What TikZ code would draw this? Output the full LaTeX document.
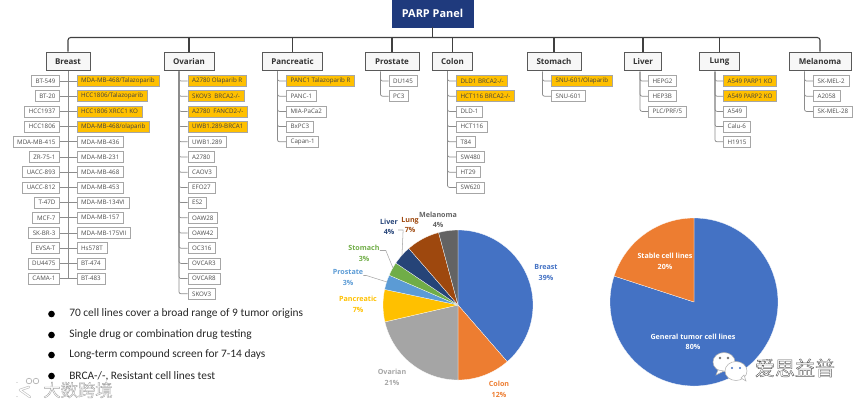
\documentclass[tikz,border=0pt]{standalone}
\usepackage{fontspec}
\setmainfont{Open Sans}
\newfontfamily\bodyfont{Carlito}
\newfontfamily\cjkfont{Noto Sans CJK SC}
\usepackage{tikz}
\usetikzlibrary{positioning,calc}
\definecolor{panelblue}{HTML}{1F3A7D}
\definecolor{hitfill}{HTML}{FFC000}
\definecolor{slBreast}{HTML}{4472C4}
\definecolor{slColon}{HTML}{ED7D31}
\definecolor{slOvarian}{HTML}{A5A5A5}
\definecolor{slPancreatic}{HTML}{FFC000}
\definecolor{slProstate}{HTML}{5B9BD5}
\definecolor{slStomach}{HTML}{70AD47}
\definecolor{slLiver}{HTML}{264478}
\definecolor{slLung}{HTML}{9E480E}
\definecolor{slMelanoma}{HTML}{636363}
\tikzset{
  panel/.style={draw=panelblue, fill=panelblue, text=white, font=\fontsize{8.2}{10}\selectfont\bfseries, minimum width=60.5pt, minimum height=20pt},
  organ/.style={draw=black!65, fill=black!3, line width=0.7pt, text=black!80, font=\fontsize{6}{8}\selectfont\bfseries, minimum height=14pt, inner xsep=0pt},
  cell/.style={draw=black!35, fill=white, line width=0.55pt, text=black!70, font=\fontsize{4.65}{6}\selectfont, minimum height=8.2pt, inner xsep=3.2pt, inner ysep=0pt},
  hit/.style={cell, fill=hitfill, text=black!75},
  under/.style={below=2.65pt of #1.south west, anchor=north west},
  underl/.style={below=2.65pt of #1.south east, anchor=north east},
  bus/.style={draw=black!75, line width=0.8pt, rounded corners=2pt},
  twig/.style={draw=black!45, line width=0.55pt, rounded corners=1.5pt},
  pct/.style={font=\fontsize{5.35}{7.8}\selectfont\bfseries, align=center, inner sep=0pt},
  leader/.style={draw=black!35, line width=0.4pt},
  dot/.style={circle, fill=black, inner sep=0pt, minimum size=5pt},
  point/.style={font=\bodyfont\fontsize{8.55}{10}\selectfont, anchor=west, inner sep=0pt, text=black!85},
  bubble/.style={fill=white, draw=black!30, line width=0.4pt},
}
% pie slice: colour, centre, from, to, radius
\newcommand{\slice}[5]{\fill[#1, draw=white, line width=0.2pt] (#2) -- ++(#3:#5) arc (#3:#4:#5) -- cycle;}
% white letters with a grey rim
\newcommand{\rimtext}[2]{\special{pdf:code q 2 Tr 0.3 w #1 G}#2\special{pdf:code Q}}
\begin{document}
\begin{tikzpicture}[x=0.75pt, y=0.75pt]
\useasboundingbox (0,0) rectangle (865,-405);

% --- top of the tree ---
\node (parp) [panel] at (432.5,-13.5) {PARP Panel};
\node (breast)  [organ, minimum width=33pt]   at (68,-61.5)  {Breast};
\node (ovarian) [organ, minimum width=37.5pt] at (189,-61.5) {Ovarian};
\node (pancreas)[organ, minimum width=45.5pt] at (292.5,-61.5) {Pancreatic};
\node (prostate)[organ, minimum width=40.5pt] at (392,-61.5) {Prostate};
\node (colon)   [organ, minimum width=30.5pt] at (452.5,-61.5) {Colon};
\node (stomach) [organ, minimum width=40.5pt] at (554,-61.5) {Stomach};
\node (liver)   [organ, minimum width=28pt]   at (643,-61.5) {Liver};
\node (lung)    [organ, minimum width=30.5pt] at (719.5,-61.5) {Lung};
\node (melanoma)[organ, minimum width=46.5pt] at (820,-61.5) {Melanoma};

\coordinate (hub) at (432.5,-37.5);
\draw[bus] (parp) -- (hub);
\draw[bus] (breast) |- (hub);
\draw[bus] (melanoma) |- (hub);
\draw[bus] (ovarian) -- (ovarian |- hub);
\draw[bus] (pancreas) -- (pancreas |- hub);
\draw[bus] (prostate) -- (prostate |- hub);
\draw[bus] (colon) -- (colon |- hub);
\draw[bus] (stomach) -- (stomach |- hub);
\draw[bus] (liver) -- (liver |- hub);
\draw[bus] (lung) -- (lung |- hub);

% --- breast, two columns round the trunk ---
\node (brL1)  [cell, anchor=east] at (60,-81) {BT-549};
\node (brL2)  [cell, underl=brL1]  {BT-20};
\node (brL3)  [cell, underl=brL2]  {HCC1937};
\node (brL4)  [cell, underl=brL3]  {HCC1806};
\node (brL5)  [cell, underl=brL4]  {MDA-MB-415};
\node (brL6)  [cell, underl=brL5]  {ZR-75-1};
\node (brL7)  [cell, underl=brL6]  {UACC-893};
\node (brL8)  [cell, underl=brL7]  {UACC-812};
\node (brL9)  [cell, underl=brL8]  {T-47D};
\node (brL10) [cell, underl=brL9]  {MCF-7};
\node (brL11) [cell, underl=brL10] {SK-BR-3};
\node (brL12) [cell, underl=brL11] {EVSA-T};
\node (brL13) [cell, underl=brL12] {DU4475};
\node (brL14) [cell, underl=brL13] {CAMA-1};
\node (brR1)  [hit, anchor=west] at (76.5,-81) {MDA-MB-468/Talazoparib};
\node (brR2)  [hit, under=brR1]   {HCC1806/Talazoparib};
\node (brR3)  [hit, under=brR2]   {HCC1806 XRCC1 KO};
\node (brR4)  [hit, under=brR3]   {MDA-MB-468/olaparib};
\node (brR5)  [cell, under=brR4]  {MDA-MB-436};
\node (brR6)  [cell, under=brR5]  {MDA-MB-231};
\node (brR7)  [cell, under=brR6]  {MDA-MB-468};
\node (brR8)  [cell, under=brR7]  {MDA-MB-453};
\node (brR9)  [cell, under=brR8]  {MDA-MB-134VI};
\node (brR10) [cell, under=brR9]  {MDA-MB-157};
\node (brR11) [cell, under=brR10] {MDA-MB-175VII};
\node (brR12) [cell, under=brR11] {Hs578T};
\node (brR13) [cell, under=brR12] {BT-474};
\node (brR14) [cell, under=brR13] {BT-483};
\coordinate (brEnd) at (breast |- brR14);
\draw[twig] (breast) -- (brEnd);
\draw[twig] (brL1) -- (brR1);
\draw[twig] (brL2) -- (brR2);
\draw[twig] (brL3) -- (brR3);
\draw[twig] (brL4) -- (brR4);
\draw[twig] (brL5) -- (brR5);
\draw[twig] (brL6) -- (brR6);
\draw[twig] (brL7) -- (brR7);
\draw[twig] (brL8) -- (brR8);
\draw[twig] (brL9) -- (brR9);
\draw[twig] (brL10) -- (brR10);
\draw[twig] (brL11) -- (brR11);
\draw[twig] (brL12) -- (brR12);
\draw[twig] (brL13) -- (brR13);
\draw[twig] (brL14) -- (brR14);

% --- ovarian ---
\coordinate (ovT) at (179,-71.5);
\node (ov1)  [hit, anchor=west] at (187.5,-81) {A2780 Olaparib R};
\node (ov2)  [hit, under=ov1]   {SKOV3\ \ BRCA2-/-};
\node (ov3)  [hit, under=ov2]   {A2780\ \ FANCD2-/-};
\node (ov4)  [hit, under=ov3]   {UWB1.289-BRCA1};
\node (ov5)  [cell, under=ov4]  {UWB1.289};
\node (ov6)  [cell, under=ov5]  {A2780};
\node (ov7)  [cell, under=ov6]  {CAOV3};
\node (ov8)  [cell, under=ov7]  {EFO27};
\node (ov9)  [cell, under=ov8]  {ES2};
\node (ov10) [cell, under=ov9]  {OAW28};
\node (ov11) [cell, under=ov10] {OAW42};
\node (ov12) [cell, under=ov11] {OC316};
\node (ov13) [cell, under=ov12] {OVCAR3};
\node (ov14) [cell, under=ov13] {OVCAR8};
\node (ov15) [cell, under=ov14] {SKOV3};
\draw[twig] (ovT) |- (ov1.west);
\draw[twig] (ovT) |- (ov2.west);
\draw[twig] (ovT) |- (ov3.west);
\draw[twig] (ovT) |- (ov4.west);
\draw[twig] (ovT) |- (ov5.west);
\draw[twig] (ovT) |- (ov6.west);
\draw[twig] (ovT) |- (ov7.west);
\draw[twig] (ovT) |- (ov8.west);
\draw[twig] (ovT) |- (ov9.west);
\draw[twig] (ovT) |- (ov10.west);
\draw[twig] (ovT) |- (ov11.west);
\draw[twig] (ovT) |- (ov12.west);
\draw[twig] (ovT) |- (ov13.west);
\draw[twig] (ovT) |- (ov14.west);
\draw[twig] (ovT) |- (ov15.west);

% --- pancreatic ---
\coordinate (paT) at (277.5,-71.5);
\node (pa1) [hit, anchor=west] at (286,-81) {PANC1 Talazoparib R};
\node (pa2) [cell, under=pa1] {PANC-1};
\node (pa3) [cell, under=pa2] {MIA-PaCa2};
\node (pa4) [cell, under=pa3] {BxPC3};
\node (pa5) [cell, under=pa4] {Capan-1};
\draw[twig] (paT) |- (pa1.west);
\draw[twig] (paT) |- (pa2.west);
\draw[twig] (paT) |- (pa3.west);
\draw[twig] (paT) |- (pa4.west);
\draw[twig] (paT) |- (pa5.west);

% --- prostate ---
\coordinate (prT) at (380.5,-71.5);
\node (pr1) [cell, anchor=west] at (388.5,-81) {DU145};
\node (pr2) [cell, under=pr1] {PC3};
\draw[twig] (prT) |- (pr1.west);
\draw[twig] (prT) |- (pr2.west);

% --- colon ---
\coordinate (coT) at (447.5,-71.5);
\node (co1) [hit, anchor=west] at (456,-81) {DLD1 BRCA2-/-};
\node (co2) [hit, under=co1]  {HCT116 BRCA2-/-};
\node (co3) [cell, under=co2] {DLD-1};
\node (co4) [cell, under=co3] {HCT116};
\node (co5) [cell, under=co4] {T84};
\node (co6) [cell, under=co5] {SW480};
\node (co7) [cell, under=co6] {HT29};
\node (co8) [cell, under=co7] {SW620};
\draw[twig] (coT) |- (co1.west);
\draw[twig] (coT) |- (co2.west);
\draw[twig] (coT) |- (co3.west);
\draw[twig] (coT) |- (co4.west);
\draw[twig] (coT) |- (co5.west);
\draw[twig] (coT) |- (co6.west);
\draw[twig] (coT) |- (co7.west);
\draw[twig] (coT) |- (co8.west);

% --- stomach ---
\coordinate (stT) at (542.5,-71.5);
\node (st1) [hit, anchor=west] at (551,-81) {SNU-601/Olaparib};
\node (st2) [cell, under=st1] {SNU-601};
\draw[twig] (stT) |- (st1.west);
\draw[twig] (stT) |- (st2.west);

% --- liver ---
\coordinate (liT) at (640,-71.5);
\node (li1) [cell, anchor=west] at (648,-81) {HEPG2};
\node (li2) [cell, under=li1] {HEP3B};
\node (li3) [cell, under=li2] {PLC/PRF/5};
\draw[twig] (liT) |- (li1.west);
\draw[twig] (liT) |- (li2.west);
\draw[twig] (liT) |- (li3.west);

% --- lung ---
\coordinate (luT) at (715,-71.5);
\node (lu1) [hit, anchor=west] at (723,-81) {A549 PARP1 KO};
\node (lu2) [hit, under=lu1]  {A549 PARP2 KO};
\node (lu3) [cell, under=lu2] {A549};
\node (lu4) [cell, under=lu3] {Calu-6};
\node (lu5) [cell, under=lu4] {H1915};
\draw[twig] (luT) |- (lu1.west);
\draw[twig] (luT) |- (lu2.west);
\draw[twig] (luT) |- (lu3.west);
\draw[twig] (luT) |- (lu4.west);
\draw[twig] (luT) |- (lu5.west);

% --- melanoma ---
\coordinate (meT) at (804.5,-71.5);
\node (me1) [cell, anchor=west] at (813,-81) {SK-MEL-2};
\node (me2) [cell, under=me1] {A2058};
\node (me3) [cell, under=me2] {SK-MEL-28};
\draw[twig] (meT) |- (me1.west);
\draw[twig] (meT) |- (me2.west);
\draw[twig] (meT) |- (me3.west);

% --- bullet points ---
\node (dot1) [dot] at (51.5,-314) {};
\node (dot2) [dot] at (51.5,-335) {};
\node (dot3) [dot] at (51.5,-355) {};
\node (dot4) [dot] at (51.5,-376) {};
\node (line1) [point] at (69,-314) {70 cell lines cover a broad range of 9 tumor origins};
\node (line2) [point] at (69,-335) {Single drug or combination drug testing};
\node (line3) [point] at (69,-355) {Long-term compound screen for 7-14 days};
\node (line4) [point] at (69,-376) {BRCA-/-, Resistant cell lines test};

% --- tumour pie ---
\coordinate (pieA) at (458,-305);
\slice{slBreast}{pieA}{90}{-49}{75}
\slice{slColon}{pieA}{-49}{-90}{75}
\slice{slOvarian}{pieA}{-90}{-167}{75}
\slice{slPancreatic}{pieA}{-167}{-192}{75}
\slice{slProstate}{pieA}{-192}{-203.4}{75}
\slice{slStomach}{pieA}{-203.4}{-214}{75}
\slice{slLiver}{pieA}{-214}{-229}{75}
\slice{slLung}{pieA}{-229}{-255}{75}
\slice{slMelanoma}{pieA}{-255}{-270}{75}
\node (lbBreast) [pct, text=slBreast] at (546,-272.5) {Breast\\39\%};
\node (lbColon)  [pct, text=slColon] at (499,-389.5) {Colon\\12\%};
\node (lbOvarian)[pct, text=slOvarian] at (392,-377.5) {Ovarian\\21\%};
\node (lbPancreatic)[pct, text=slPancreatic] at (358,-304.5) {Pancreatic\\7\%};
\node (lbProstate)[pct, text=slProstate] at (348,-277.5) {Prostate\\3\%};
\node (lbStomach)[pct, text=slStomach] at (364,-253.5) {Stomach\\3\%};
\node (lbLiver)  [pct, text=slLiver] at (389,-227) {Liver\\4\%};
\node (lbLung)   [pct, text=slLung] at (410,-225) {Lung\\7\%};
\node (lbMelanoma)[pct, text=slMelanoma] at (438,-220) {Melanoma\\4\%};
\coordinate (tipProstate) at (387,-282);
\coordinate (tipStomach) at (393,-268);
\coordinate (tipLiver) at (402,-255);
\draw[leader] (lbProstate.east) ++(0,2) -- ++(3,0) -- (tipProstate);
\draw[leader] (lbStomach.east) ++(0,3) -- ++(6,0) -- (tipStomach);
\draw[leader] (lbLiver.east) ++(0,-3) -- ++(5,0) -- (tipLiver);

% --- cell line type pie ---
\coordinate (pieB) at (694,-302);
\slice{slBreast}{pieB}{90}{-198}{84}
\slice{slColon}{pieB}{-198}{-270}{84}
\node (lbStable) [pct, text=white] at (665,-261.5) {Stable cell lines\\20\%};
\node (lbGeneral)[pct, text=white] at (693,-342) {General tumor cell lines\\80\%};

% --- watermarks ---
\draw[draw=black!25, line width=1.8pt, line cap=round] (17,-383) -- (17,-396);
\draw[draw=white, line width=0.9pt, line cap=round] (17,-383) -- (17,-396);
\draw[draw=black!25, line width=1.8pt, line cap=round, line join=round] (29,-387) -- (20,-390) -- (30,-397);
\draw[draw=white, line width=0.9pt, line cap=round, line join=round] (29,-387) -- (20,-390) -- (30,-397);
\draw[draw=black!30, fill=white, line width=0.5pt] (29,-381) circle (2.8) (36,-381) circle (2.8);
\node (mark1) [text=white, font=\cjkfont\fontsize{13}{14}\selectfont, inner sep=0pt] at (78,-390) {\rimtext{0.65}{大数跨境}};
\fill[bubble] (724,-362) ellipse (11 and 9.5);
\fill[bubble] (718,-370) -- (716,-375) -- (724,-371) -- cycle;
\fill[black!55] (720,-358) circle (1.3) (728,-358) circle (1.3);
\fill[bubble] (736,-371) ellipse (11 and 9.5);
\fill[bubble] (741,-378) -- (746,-381) -- (744,-375) -- cycle;
\fill[slBreast] (732,-368) circle (1.2) (740,-368) circle (1.2);
\node (mark2) [text=white, font=\cjkfont\fontsize{15}{16}\selectfont, inner sep=0pt] at (795,-368) {\rimtext{0.35}{爱思益普}};
\end{tikzpicture}
\end{document}
